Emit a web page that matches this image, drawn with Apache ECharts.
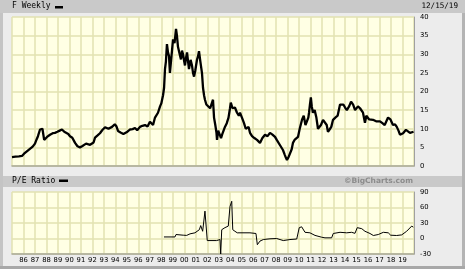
<!DOCTYPE html>
<html>
<head>
<meta charset="utf-8">
<script src="https://cdn.jsdelivr.net/npm/echarts@6/dist/echarts.min.js"></script>
<style>
html,body{margin:0;padding:0;background:#ececec;}
#c{width:465px;height:269px;}
</style>
</head>
<body>
<div id="c"></div>
<script>
// ---- data (decimal years) ----
const priceDates = [1985.00,1985.30,1985.60,1985.87,1986.05,1986.22,1986.40,1986.57,1986.80,1987.00,1987.15,1987.26,1987.44,1987.55,1987.65,1987.80,1987.90,1988.05,1988.31,1988.55,1988.74,1988.95,1989.15,1989.35,1989.55,1989.70,1989.90,1990.05,1990.25,1990.49,1990.70,1990.80,1990.92,1991.10,1991.27,1991.45,1991.62,1991.80,1991.95,1992.10,1992.23,1992.45,1992.66,1992.85,1993.10,1993.40,1993.71,1993.95,1994.10,1994.23,1994.45,1994.70,1994.84,1995.05,1995.27,1995.50,1995.71,1995.90,1996.14,1996.35,1996.58,1996.80,1997.01,1997.15,1997.28,1997.45,1997.60,1997.71,1997.80,1997.89,1998.00,1998.15,1998.24,1998.32,1998.40,1998.49,1998.58,1998.67,1998.75,1998.93,1999.02,1999.15,1999.28,1999.36,1999.45,1999.60,1999.71,1999.80,1999.89,2000.00,2000.06,2000.15,2000.24,2000.33,2000.41,2000.55,2000.67,2000.76,2000.85,2000.95,2001.11,2001.20,2001.28,2001.40,2001.54,2001.63,2001.72,2001.80,2001.92,2002.06,2002.25,2002.41,2002.50,2002.59,2002.70,2002.80,2002.85,2002.95,2003.11,2003.20,2003.30,2003.54,2003.70,2003.85,2003.98,2004.05,2004.20,2004.41,2004.59,2004.75,2004.85,2005.02,2005.20,2005.35,2005.46,2005.60,2005.72,2005.90,2006.10,2006.33,2006.45,2006.59,2006.80,2007.03,2007.25,2007.46,2007.65,2007.90,2008.05,2008.16,2008.35,2008.59,2008.75,2008.85,2008.94,2009.05,2009.15,2009.20,2009.35,2009.46,2009.60,2009.75,2009.90,2010.05,2010.25,2010.40,2010.55,2010.68,2010.80,2010.86,2010.94,2011.02,2011.10,2011.20,2011.35,2011.50,2011.64,2011.75,2011.90,2012.08,2012.25,2012.40,2012.51,2012.65,2012.80,2012.95,2013.15,2013.35,2013.56,2013.70,2013.85,2014.00,2014.15,2014.35,2014.52,2014.70,2014.87,2015.00,2015.12,2015.30,2015.56,2015.65,2015.73,2015.85,2016.10,2016.43,2016.70,2016.85,2017.04,2017.25,2017.45,2017.60,2017.74,2017.95,2018.05,2018.17,2018.35,2018.50,2018.65,2018.78,2018.90,2019.05,2019.30,2019.45,2019.65,2019.80,2019.96];
const priceValues = [2.4,2.5,2.6,2.7,3.3,3.8,4.2,4.4,5.2,6.0,7.2,8.0,9.8,9.5,10.0,7.0,7.4,7.8,8.4,8.8,8.9,9.2,9.5,9.8,9.2,9.0,8.6,8.0,7.6,6.2,5.3,4.8,5.0,5.3,5.8,6.0,6.5,5.7,5.2,6.3,7.6,8.2,8.8,9.6,10.4,10.0,10.5,11.2,10.6,9.4,9.0,8.6,9.0,9.2,9.8,9.9,10.2,9.6,10.5,10.8,11.0,10.6,11.9,11.4,11.0,13.0,13.4,14.3,14.8,16.0,16.8,19.0,21.0,26.0,28.0,32.7,30.5,29.5,25.0,31.0,34.0,33.0,36.8,35.0,32.0,30.0,28.6,31.0,30.0,28.0,27.0,29.0,30.5,28.0,26.0,28.5,27.0,25.0,24.0,25.5,28.6,29.5,30.8,28.0,25.0,21.0,19.0,17.8,16.5,16.0,15.5,15.0,17.8,13.0,11.0,9.0,7.0,9.5,9.0,7.5,8.5,10.5,11.5,13.0,15.5,17.0,15.5,15.7,14.3,13.5,14.3,13.0,11.5,10.0,9.7,10.5,8.9,8.0,7.5,7.0,6.5,6.2,7.5,8.4,8.0,8.9,8.5,7.8,7.0,6.5,5.5,4.3,3.0,2.2,1.6,2.2,1.8,2.4,4.5,6.2,7.0,7.5,7.8,10.0,12.4,13.5,11.0,11.5,13.0,14.3,16.5,18.4,16.0,14.3,15.0,13.0,10.0,9.7,11.0,12.4,12.8,11.0,9.2,9.8,10.5,12.4,13.0,13.5,16.5,17.0,16.5,15.7,15.0,16.0,17.3,16.5,15.0,15.5,16.0,15.5,14.3,14.8,11.6,13.5,12.5,12.4,12.0,11.5,12.0,11.5,11.0,11.5,13.0,12.5,12.8,11.0,11.2,10.5,9.5,8.4,8.0,8.8,9.7,10.0,8.9,9.2,9.2];

const peDates = [1998.23,1999.19,1999.28,1999.91,2000.21,2000.50,2000.93,2001.31,2001.43,2001.60,2001.80,2001.89,2002.00,2002.82,2003.11,2003.17,2003.26,2003.54,2003.83,2003.98,2004.13,2004.22,2004.41,2004.61,2005.72,2006.24,2006.36,2006.59,2006.88,2007.46,2008.05,2008.62,2009.20,2009.79,2010.01,2010.22,2010.51,2010.94,2011.38,2011.96,2012.25,2012.83,2012.97,2013.56,2014.14,2014.57,2014.86,2015.06,2015.45,2015.73,2016.17,2016.46,2016.89,2017.33,2017.76,2017.97,2018.49,2018.93,2019.36,2019.80,2019.94];
const peValues = [3,3,7.7,6.4,6,9,11,17,25,14,53,50,-4,-4,-2,-30,17,21,24,62,72,17,14,11,11,9.7,-12,-5,-2,-0.6,0,-4,-2,-1,21,22.6,12,11,6,2.5,1.3,1.3,9.7,12,11,12,10,21,19,14,9.7,5.8,7.7,12,11,6.4,5.8,7,14,24,22];

const xTickLabels = ['86','87','88','89','90','91','92','93','94','95','96','97','98','99','00','01','02','03','04','05','06','07','08','09','10','11','12','13','14','15','16','17','18','19'];
const priceTicks = [0,5,10,15,20,25,30,35,40];
const peTicks = [-30,0,30,60,90];

const priceData = priceDates.map((d,i)=>[d, priceValues[i]]);
const peData = peDates.map((d,i)=>[d, peValues[i]]);

const axisFont = {fontFamily:'DejaVu Sans', fontSize:6.8, color:'#000'};
const gridLine = {show:true, lineStyle:{color:'#e2e2b2', width:1.5}};
const xLabelFmt = v => { const i = Math.round(v) - 1986; return (i>=0 && i<xTickLabels.length) ? xTickLabels[i] : ''; };

const chart = echarts.init(document.getElementById('c'), null, {renderer:'canvas'});
chart.setOption({
  animation:false,
  backgroundColor:'#ececec',
  graphic:[
    {type:'rect', z:-10, shape:{x:0,y:0,width:465,height:269}, style:{fill:'#ececec'}},
    {type:'rect', z:-9, shape:{x:0,y:0,width:465,height:13}, style:{fill:'#c9c9c9'}},
    {type:'rect', z:-9, shape:{x:0,y:176,width:465,height:11}, style:{fill:'#c9c9c9'}},
    {type:'rect', z:-9, shape:{x:0,y:13,width:3,height:256}, style:{fill:'#c4c4c4'}},
    {type:'rect', z:-9, shape:{x:462,y:13,width:3,height:256}, style:{fill:'#b4b4b4'}},
    {type:'rect', z:-9, shape:{x:0,y:266,width:465,height:3}, style:{fill:'#a8a8a8'}},
    {type:'text', left:12, top:2, style:{text:'F Weekly', font:'8px "DejaVu Sans Mono"', fill:'#000'}},
    {type:'rect', shape:{x:55,y:6,width:8,height:2.5}, style:{fill:'#000'}},
    {type:'text', right:7, top:2, style:{text:'12/15/19', font:'7.6px "DejaVu Sans Mono"', fill:'#000'}},
    {type:'text', left:12, top:177, style:{text:'P/E Ratio', font:'8px "DejaVu Sans Mono"', fill:'#000'}},
    {type:'rect', shape:{x:59,y:179.5,width:9,height:2.5}, style:{fill:'#000'}},
    {type:'text', right:52, top:177.5, style:{text:'©BigCharts.com', font:'bold 7.5px "DejaVu Sans"', fill:'#8c8c8c'}}
  ],
  grid:[
    {left:12, top:17, width:402, height:149, show:true, backgroundColor:'#ffffe4', borderWidth:0},
    {left:12, top:192, width:402, height:62, show:true, backgroundColor:'#ffffe4', borderWidth:0}
  ],
  xAxis:[
    {gridIndex:0, type:'value', min:1985, max:2020, interval:1,
     axisLine:{show:true, onZero:false, lineStyle:{color:'#a8a898', width:1.5}}, axisTick:{show:false},
     axisLabel:{show:false}, splitLine:gridLine},
    {gridIndex:1, type:'value', min:1985, max:2020, interval:1,
     axisLine:{show:true, onZero:false, lineStyle:{color:'#a8a898', width:1.5}}, axisTick:{show:false},
     axisLabel:Object.assign({show:true, margin:3, formatter:xLabelFmt, showMinLabel:true, showMaxLabel:true}, axisFont),
     splitLine:gridLine}
  ],
  yAxis:[
    {gridIndex:0, type:'value', position:'right', min:priceTicks[0], max:priceTicks[priceTicks.length-1], interval:5,
     axisLine:{show:true, lineStyle:{color:'#a0a0a0', width:1}}, axisTick:{show:false},
     axisLabel:Object.assign({margin:6}, axisFont), splitLine:gridLine},
    {gridIndex:1, type:'value', position:'right', min:peTicks[0], max:peTicks[peTicks.length-1], interval:30,
     axisLine:{show:true, lineStyle:{color:'#a0a0a0', width:1}}, axisTick:{show:false},
     axisLabel:Object.assign({margin:6}, axisFont), splitLine:gridLine}
  ],
  series:[
    {type:'line', xAxisIndex:0, yAxisIndex:0, data:priceData, showSymbol:false, symbol:'none',
     lineStyle:{color:'#000', width:2.3}},
    {type:'line', xAxisIndex:1, yAxisIndex:1, data:peData, showSymbol:false, symbol:'none',
     lineStyle:{color:'#000', width:1}}
  ]
});
</script>
</body>
</html>
